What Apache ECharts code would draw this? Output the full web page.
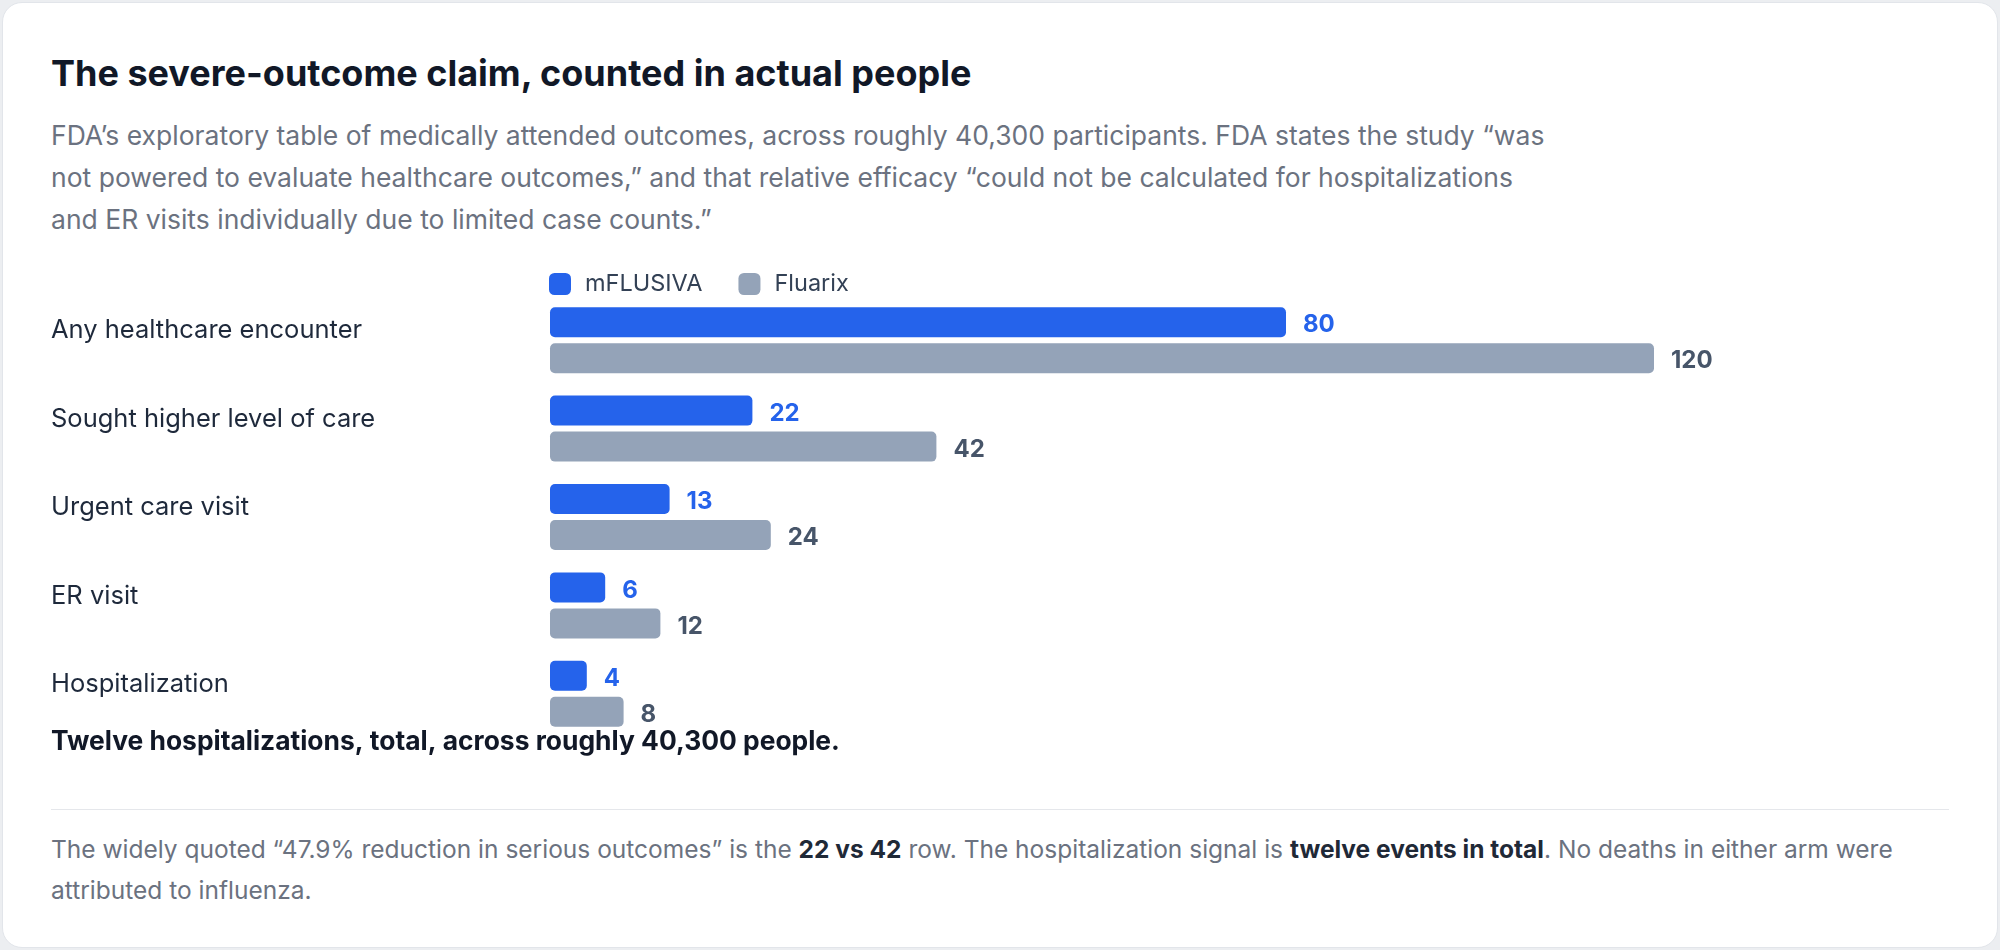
<!DOCTYPE html>
<html lang="en">
<head>
    <meta charset="UTF-8" />
    <title>The severe-outcome claim, counted in actual people</title>
    <script src="https://cdn.jsdelivr.net/npm/echarts@6/dist/echarts.min.js"></script>
    <style>
        html, body { margin: 0; padding: 0; background: #eceef1; font-family: Inter, "Noto Sans", sans-serif; }
        .card {
            position: absolute; left: 2px; top: 2px; width: 1996px; height: 946px;
            box-sizing: border-box; border: 1px solid #e2e5ea; border-radius: 20px;
            background: #fff; overflow: hidden;
        }
        .title {
            position: absolute; left: 48px; top: 50px; margin: 0;
            font-size: 36px; line-height: 40px; font-weight: 700; color: #111827;
        }
        .sub {
            position: absolute; left: 48px; top: 111px; margin: 0;
            font-size: 26.5px; line-height: 42px; color: #6b7280;
        }
        #chart { position: absolute; left: -3px; top: 257px; width: 2000px; height: 510px; }
        .rule { position: absolute; left: 48px; top: 806px; width: 1898px; height: 1px; background: #e5e7eb; }
        .foot {
            position: absolute; left: 48px; top: 826px; margin: 0;
            font-size: 24.5px; line-height: 41px; color: #6b7280;
        }
        .foot b { color: #1f2937; font-weight: 700; }
    </style>
</head>
<body>
    <div class="card">
        <h1 class="title">The severe-outcome claim, counted in actual people</h1>
        <p class="sub">FDA’s exploratory table of medically attended outcomes, across roughly 40,300 participants. FDA states the study “was<br>not powered to evaluate healthcare outcomes,” and that relative efficacy “could not be calculated for hospitalizations<br>and ER visits individually due to limited case counts.”</p>
        <div id="chart"></div>
        <div class="rule"></div>
        <p class="foot">The widely quoted “47.9% reduction in serious outcomes” is the <b>22 vs 42</b> row. The hospitalization signal is <b>twelve events in total</b>. No deaths in either arm were<br>attributed to influenza.</p>
    </div>
    <script>
        // counts from FDA's exploratory table
        var outcomes = ["Any healthcare encounter", "Sought higher level of care", "Urgent care visit", "ER visit", "Hospitalization"];
        var mflusiva = [80, 22, 13, 6, 4];
        var fluarix = [120, 42, 24, 12, 8];
        var seriesNames = ["mFLUSIVA", "Fluarix"];
        var note = "Twelve hospitalizations, total, across roughly 40,300 people.";

        var font = "Inter, 'Noto Sans', sans-serif";
        var mCharts = echarts.init(document.getElementById("chart"));

        var option = {
            animation: false,
            textStyle: { fontFamily: font },
            legend: {
                left: 544,
                top: 7,
                itemWidth: 22,
                itemHeight: 22,
                itemGap: 36,
                icon: "roundRect",
                textStyle: { fontSize: 23.5, color: "#334155", fontFamily: font, padding: [0, 0, 0, 9] },
                data: seriesNames
            },
            grid: { left: 550, right: 346, top: 36, bottom: 32 },
            xAxis: {
                type: "value",
                min: 0,
                max: 120,
                show: false
            },
            yAxis: {
                type: "category",
                data: outcomes,
                inverse: true,
                axisLine: { show: false },
                axisTick: { show: false },
                axisLabel: {
                    align: "left",
                    verticalAlign: "bottom",
                    lineHeight: 19,
                    margin: 499,
                    fontSize: 25.5,
                    color: "#1e293b",
                    fontFamily: font
                }
            },
            series: [
                {
                    name: seriesNames[0],
                    type: "bar",
                    data: mflusiva,
                    barWidth: 30,
                    barGap: "20%",
                    itemStyle: { color: "#2563eb", borderRadius: 5 },
                    label: {
                        show: true, position: "right", distance: 17, offset: [0, 3],
                        fontSize: 24, fontWeight: 700, color: "#2563eb", fontFamily: font
                    }
                },
                {
                    name: seriesNames[1],
                    type: "bar",
                    data: fluarix,
                    barWidth: 30,
                    itemStyle: { color: "#94a3b8", borderRadius: 5 },
                    label: {
                        show: true, position: "right", distance: 17, offset: [0, 3],
                        fontSize: 24, fontWeight: 700, color: "#475569", fontFamily: font
                    }
                }
            ],
            graphic: [
                {
                    type: "text",
                    left: 51,
                    top: 469,
                    style: { text: note, fontSize: 26.4, fontWeight: 700, fill: "#111827", fontFamily: font }
                }
            ]
        };
        mCharts.setOption(option);
    </script>
</body>
</html>
